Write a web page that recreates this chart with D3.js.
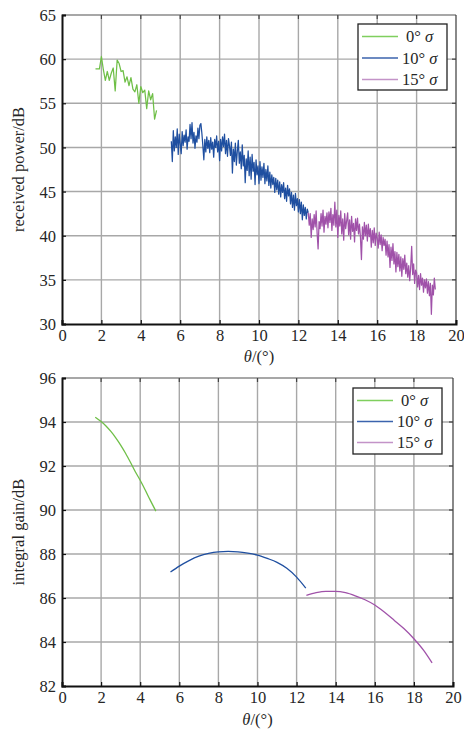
<!DOCTYPE html>
<html>
<head>
<meta charset="utf-8">
<script src="https://cdn.jsdelivr.net/npm/d3@7"></script>
<style>
  html, body { margin: 0; padding: 0; background: #fff; }
  svg { display: block; }
  text { font-family: "Liberation Serif", "Times New Roman", serif; fill: #262626; }
</style>
</head>
<body>
<svg id="chart" width="464" height="730"></svg>
<script>
// ---- data ----
const seriesNames = ["0°", "10°", "15°"];
const seriesColors = ["#6fbf47", "#1f4fa0", "#a052a9"];
const legendColors = ["#7fcf5e", "#3b63ad", "#c393c8"];

// received power (dB), sampled on a regular θ grid
const powerStart = [1.7, 5.55, 12.5];
const powerStep = [0.1, 0.05, 0.05];
const power0 = [58.9, 58.9, 58.9, 60.3, 58.8, 57.6, 58.6, 57.6, 58.4, 59.0,
                56.4, 59.9, 59.5, 58.6, 58.7, 57.4, 58.0, 57.0, 57.9, 56.6,
                56.3, 57.1, 55.0, 56.9, 56.2, 56.5, 54.4, 56.4, 55.4, 56.1,
                53.2, 54.2];
const power10 = [50.7, 48.4, 51.9, 49.6, 51.2, 50.0, 52.1, 49.2, 51.5, 50.4,
                 49.3, 51.8, 50.2, 51.4, 50.6, 52.0, 49.8, 51.2, 50.7, 52.6,
                 51.0, 52.8, 50.5, 51.7, 49.9, 51.3, 50.6, 52.2, 51.0, 52.5,
                 52.7, 51.6, 50.2, 48.6, 50.9, 49.5, 51.2, 49.9, 50.8, 49.4,
                 51.1, 49.8, 50.6, 48.9, 50.9, 50.0, 51.3, 49.5, 50.7, 48.5,
                 50.9, 49.6, 51.2, 50.1, 51.5, 49.3, 50.8, 49.0, 51.0, 50.2,
                 49.1, 50.6, 47.1, 49.8, 48.4, 50.5, 48.0, 49.6, 50.8, 48.2,
                 49.5, 47.6, 50.3, 47.9, 49.1, 46.0, 48.7, 47.4, 49.6, 46.8,
                 48.9, 46.4, 49.2, 47.3, 48.3, 45.8, 48.6, 46.9, 47.9, 45.9,
                 48.4, 46.3, 47.8, 46.6, 48.2, 45.9, 47.5, 46.2, 47.9, 45.7,
                 47.2, 45.4, 46.9, 45.8, 46.6, 44.9, 46.5, 45.2, 46.3, 44.7,
                 46.1, 44.4, 45.8, 44.9, 46.0, 44.2, 45.4, 43.9, 45.7, 44.5,
                 45.3, 43.6, 44.9, 43.2, 44.6, 42.9, 44.8, 43.4, 44.2, 42.7,
                 44.1, 42.5, 43.8, 41.8, 43.5, 42.3, 43.2, 41.9, 43.0, 42.6];
const power15 = [42.6, 41.2, 42.5, 39.8, 41.9, 40.7, 42.4, 41.0, 42.8, 40.3,
                 38.5, 41.6, 40.8, 42.5, 41.1, 42.9, 40.4, 42.2, 41.3, 42.6,
                 40.9, 42.7, 41.5, 43.1, 40.6, 42.4, 41.2, 43.8, 41.0, 42.9,
                 39.8, 42.3, 41.1, 42.8, 40.2, 41.9, 39.5, 42.5, 40.8, 41.7,
                 42.6, 40.1, 41.8, 39.6, 42.2, 40.5, 41.4, 39.3, 41.9, 40.6,
                 42.0, 40.2, 41.3, 39.8, 37.3, 41.0, 39.6, 41.5, 40.0, 41.2,
                 39.4, 41.3, 39.9, 40.8, 38.7, 40.6, 39.2, 40.9, 38.9, 40.3,
                 39.7, 38.6, 40.4, 39.0, 40.1, 38.3, 39.8, 38.9, 39.6, 37.8,
                 39.4, 37.6, 39.0, 36.4, 38.7, 37.2, 39.1, 36.8, 38.2, 35.9,
                 38.1, 36.5, 37.9, 36.0, 37.6, 35.4, 37.4, 36.2, 37.8, 35.7,
                 36.9, 35.3, 36.6, 34.9, 36.4, 38.8, 35.6, 36.8, 34.6, 36.1,
                 35.8, 34.2, 35.5, 33.9, 35.7, 34.4, 35.2, 33.6, 35.0, 34.1,
                 35.1, 33.5, 34.8, 33.2, 34.6, 31.1, 34.4, 33.3, 35.2, 33.9];

// integral gain (dB): θ / value pairs
const gainTheta0 = [1.7, 2.0, 2.25, 2.5, 2.75, 3.0, 3.25, 3.5, 3.75, 4.0, 4.25, 4.5, 4.8];
const gain0 = [94.22, 94.02, 93.82, 93.57, 93.28, 92.95, 92.58, 92.17, 91.74, 91.35, 90.92, 90.47, 89.95];
const gainTheta10 = [5.55, 6.0, 6.5, 7.0, 7.5, 8.0, 8.5, 9.0, 9.5, 10.0, 10.5, 11.0, 11.5, 12.0, 12.47];
const gain10 = [87.18, 87.45, 87.7, 87.9, 88.03, 88.1, 88.12, 88.1, 88.04, 87.95, 87.8, 87.62, 87.35, 86.95, 86.45];
const gainTheta15 = [12.5, 13.0, 13.5, 14.0, 14.5, 15.0, 15.5, 16.0, 16.5, 17.0, 17.5, 18.0, 18.5, 18.93];
const gain15 = [86.12, 86.24, 86.3, 86.3, 86.24, 86.1, 85.92, 85.68, 85.35, 84.98, 84.6, 84.15, 83.62, 83.05];

const xTicks = [0, 2, 4, 6, 8, 10, 12, 14, 16, 18, 20];
const powerTicks = [30, 35, 40, 45, 50, 55, 60, 65];
const gainTicks = [82, 84, 86, 88, 90, 92, 94, 96];

// ---- helpers ----
const svg = d3.select("#chart");
const FONT = "'Liberation Serif', 'Times New Roman', serif";
const FS = "16.5px";

function sampled(start, step, values) {
  return values.map((v, i) => [start + i * step, v]);
}
function paired(thetas, values) {
  return thetas.map((t, i) => [t, values[i]]);
}

function drawPanel(cfg) {
  const x = d3.scaleLinear().domain([0, 20]).range([cfg.left, cfg.right]);
  const y = d3.scaleLinear().domain(cfg.yDomain).range([cfg.bottom, cfg.top]);
  const g = svg.append("g");

  // grid
  g.append("g").selectAll("line").data(xTicks.slice(1, -1)).join("line")
    .attr("x1", d => x(d)).attr("x2", d => x(d))
    .attr("y1", cfg.top).attr("y2", cfg.bottom)
    .attr("stroke", "#a8a8a8").attr("stroke-width", 1.4);
  g.append("g").selectAll("line").data(cfg.yTicks.slice(1, -1)).join("line")
    .attr("x1", cfg.left).attr("x2", cfg.right)
    .attr("y1", d => y(d)).attr("y2", d => y(d))
    .attr("stroke", "#a8a8a8").attr("stroke-width", 1.4);

  // top and right frame
  g.append("line").attr("x1", cfg.left).attr("x2", cfg.right)
    .attr("y1", cfg.top).attr("y2", cfg.top)
    .attr("stroke", "#8a8a8a").attr("stroke-width", 1.4);
  g.append("line").attr("x1", cfg.right).attr("x2", cfg.right)
    .attr("y1", cfg.top).attr("y2", cfg.bottom)
    .attr("stroke", "#3a3a3a").attr("stroke-width", 1.2);

  // inward tick marks on the top and right frame
  g.append("g").selectAll("line").data(xTicks.slice(1, -1)).join("line")
    .attr("x1", d => x(d)).attr("x2", d => x(d))
    .attr("y1", cfg.top).attr("y2", cfg.top + 4)
    .attr("stroke", "#444").attr("stroke-width", 1.2);
  g.append("g").selectAll("line").data(cfg.yTicks.slice(1, -1)).join("line")
    .attr("x1", cfg.right - 4).attr("x2", cfg.right)
    .attr("y1", d => y(d)).attr("y2", d => y(d))
    .attr("stroke", "#444").attr("stroke-width", 1.2);

  // series
  const line = d3.line().x(d => x(d[0])).y(d => y(d[1]))
    .curve(cfg.smooth ? d3.curveMonotoneX : d3.curveLinear);
  cfg.series.forEach((s, i) => {
    g.append("path").datum(s).attr("d", line)
      .attr("fill", "none").attr("stroke", seriesColors[i])
      .attr("stroke-width", cfg.smooth ? 1.3 : 1.25)
      .attr("stroke-linejoin", "round");
  });

  // left and bottom axes
  const axL = d3.axisLeft(y).tickValues(cfg.yTicks).tickSize(-4).tickPadding(6).tickFormat(d3.format("d"));
  const axB = d3.axisBottom(x).tickValues(xTicks).tickSize(-4).tickPadding(5).tickFormat(d3.format("d"));
  const gl = g.append("g").attr("transform", `translate(${cfg.left},0)`).call(axL);
  const gb = g.append("g").attr("transform", `translate(0,${cfg.bottom})`).call(axB);
  [gl, gb].forEach(a => {
    a.attr("font-family", null).attr("font-size", null);
    a.select(".domain").attr("stroke", "#111").attr("stroke-width", 2);
    a.selectAll(".tick line").attr("stroke", "#111").attr("stroke-width", 1.2);
    a.selectAll(".tick text").style("font-family", FONT)
      .style("font-size", FS).attr("fill", "#2a2a2a");
  });
  gl.selectAll(".tick text").attr("dy", "0.34em");
  gb.selectAll(".tick text").attr("dy", "0.75em");

  // axis titles
  g.append("text")
    .attr("transform", `translate(${cfg.yLabelX},${(cfg.top + cfg.bottom) / 2}) rotate(-90)`)
    .attr("text-anchor", "middle").style("font-size", FS)
    .text(cfg.yLabel);
  const xt = g.append("text").attr("x", x(10)).attr("y", cfg.xLabelY)
    .attr("text-anchor", "middle").style("font-size", FS);
  xt.append("tspan").style("font-style", "italic").text("θ");
  xt.append("tspan").text("/(°)");

  // legend
  const L = cfg.legend;
  g.append("rect").attr("x", L.x).attr("y", L.y).attr("width", L.w).attr("height", L.h)
    .attr("fill", "#fff").attr("stroke", "#222").attr("stroke-width", 1.3);
  seriesNames.forEach((n, i) => {
    const cy = L.y + L.pad + i * L.row;
    g.append("line").attr("x1", L.x + 4).attr("x2", L.x + 4 + L.len)
      .attr("y1", cy).attr("y2", cy)
      .attr("stroke", legendColors[i]).attr("stroke-width", 1.3);
    const t = g.append("text").attr("x", L.x + (i === 0 ? 48 : 44)).attr("y", cy + 5.5)
      .style("font-size", FS);
    t.append("tspan").text(n + " ");
    t.append("tspan").style("font-style", "italic").text("σ");
  });
}

drawPanel({
  left: 62, right: 456, top: 15, bottom: 324,
  yDomain: [30, 65], yTicks: powerTicks,
  series: [sampled(powerStart[0], powerStep[0], power0),
           sampled(powerStart[1], powerStep[1], power10),
           sampled(powerStart[2], powerStep[2], power15)],
  smooth: false,
  yLabel: "received power/dB", yLabelX: 24, xLabelY: 362,
  legend: { x: 358, y: 24, w: 89, h: 66, pad: 12.5, row: 21.5, len: 36 }
});

drawPanel({
  left: 62, right: 453, top: 378, bottom: 686,
  yDomain: [82, 96], yTicks: gainTicks,
  series: [paired(gainTheta0, gain0), paired(gainTheta10, gain10), paired(gainTheta15, gain15)],
  smooth: true,
  yLabel: "integral gain/dB", yLabelX: 24, xLabelY: 725,
  legend: { x: 353, y: 388, w: 89, h: 66, pad: 12.5, row: 21, len: 36 }
});
</script>
</body>
</html>
